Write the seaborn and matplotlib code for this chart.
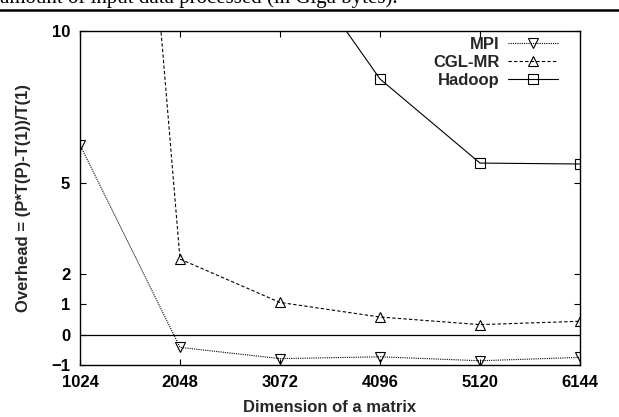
import matplotlib
matplotlib.use("Agg")
import matplotlib.pyplot as plt
from matplotlib.lines import Line2D
import seaborn as sns

# Matrix dimensions on the x axis
dims = [1024, 2048, 3072, 4096, 5120, 6144]

# Parallel overhead for each runtime
mpi = [6.25, -0.42, -0.79, -0.73, -0.86, -0.75]
cgl_dims = [1024, 2048, 3072, 4096, 5120, 6144]
cgl_mr = [42.0, 2.49, 1.06, 0.58, 0.33, 0.44]
hadoop_dims = [3072, 4096, 5120, 6144]
hadoop = [13.1, 8.42, 5.65, 5.62]

y_ticks = [-1, 0, 1, 2, 5, 10]

sns.set_theme(style="ticks")
plt.rcParams["font.family"] = ["Liberation Sans", "DejaVu Sans"]
plt.rcParams["font.weight"] = "bold"

FS = 12

fig = plt.figure(figsize=(6.19, 4.17), dpi=100)
ax = fig.add_axes([80 / 619, 1 - 365 / 417, 500 / 619, 334 / 417])

common = dict(ax=ax, color="black", linewidth=0.8, markersize=7,
              markerfacecolor="none", markeredgecolor="black",
              markeredgewidth=0.8, clip_on=True)

sns.lineplot(x=dims, y=mpi, marker="v", label="MPI",
             dashes=False, linestyle=(0, (1, 1)), **common)
sns.lineplot(x=cgl_dims, y=cgl_mr, marker="^", label="CGL-MR",
             dashes=False, linestyle=(0, (3, 2)), **common)
sns.lineplot(x=hadoop_dims, y=hadoop, marker="s", label="Hadoop",
             dashes=False, linestyle="-", **common)

ax.axhline(0, color="black", linewidth=0.9, zorder=1)

ax.set_xlim(1024, 6144)
ax.set_ylim(-1, 10)
ax.set_xticks(dims)
ax.set_yticks(y_ticks)
ax.tick_params(direction="in", length=4, width=0.8, top=True, right=True,
               labelsize=FS, colors="black")
ax.tick_params(axis="x", pad=7)
ax.tick_params(axis="y", pad=7)
for lab in ax.get_xticklabels() + ax.get_yticklabels():
    lab.set_fontweight("bold")
for s in ax.spines.values():
    s.set_linewidth(1.0)
    s.set_color("black")

ax.set_xlabel("Dimension of a matrix", fontsize=FS, fontweight="bold")
ax.set_ylabel("Overhead = (P*T(P)-T(1))/T(1)", fontsize=FS, fontweight="bold")
ax.xaxis.set_label_coords(0.5, -0.105)
ax.xaxis.label.set_va("top")
ax.yaxis.set_label_coords(-0.098, 0.5)

ax.legend(loc="upper right", bbox_to_anchor=(0.956, 0.982), frameon=False,
          markerfirst=False, handlelength=3.0, handletextpad=0.5,
          labelspacing=0.18, borderaxespad=0.0, borderpad=0.0,
          prop={"weight": "bold", "size": FS})

# Caption line above the plot
fig.text(0.0, 1 - 3 / 417, "amount of input data processed (in Giga bytes).",
         fontsize=15, family=["Liberation Serif", "DejaVu Serif"],
         fontweight="normal", va="baseline", ha="left", color="black")
fig.add_artist(Line2D([0, 1], [1 - 9.5 / 417, 1 - 9.5 / 417], color="black",
                      linewidth=1.8, transform=fig.transFigure))

fig.savefig("out.png", dpi=100)
